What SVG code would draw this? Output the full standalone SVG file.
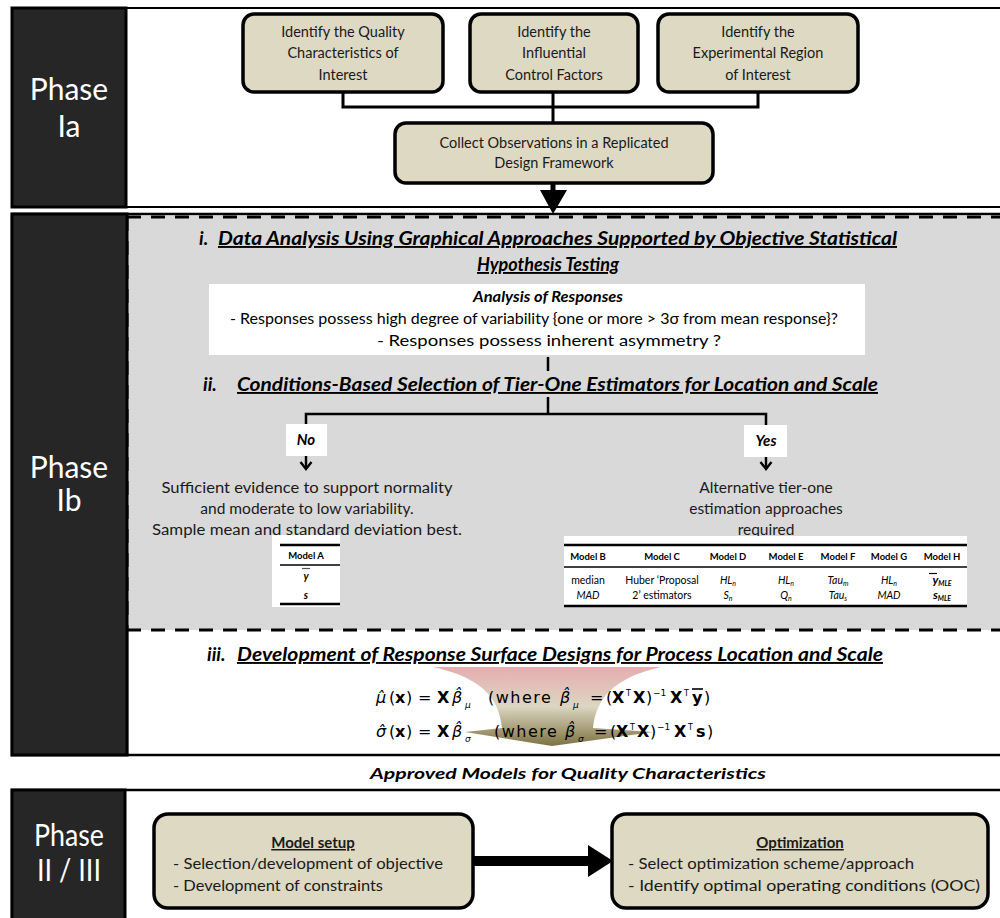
<svg xmlns="http://www.w3.org/2000/svg" width="1000" height="918" viewBox="0 0 1000 918">
<style>
.side{fill:#262626;stroke:#000;stroke-width:3}
.ptxt{font-family:Lato,"Liberation Sans",sans-serif;font-size:30px;fill:#fff;text-anchor:middle}
.box{fill:#DDD9C3;stroke:#000;stroke-width:3.5}
.bt{font-family:Lato,"Liberation Sans",sans-serif;font-size:14.5px;fill:#1a1a1a;text-anchor:middle}
.con{fill:none;stroke:#000;stroke-width:3}
.head{font-family:Lato,"Liberation Sans",sans-serif;font-size:19px;font-weight:bold;font-style:italic;fill:#000}
.ul{text-decoration:underline}
.at{font-family:Lato,"Liberation Sans",sans-serif;font-size:16px;fill:#000;text-anchor:middle}
.ab{font-family:Lato,"Liberation Sans",sans-serif;font-size:15px;font-weight:bold;font-style:italic;fill:#000;text-anchor:middle}
.lt{font-family:Lato,"Liberation Sans",sans-serif;font-size:15.5px;fill:#1a1a1a;text-anchor:middle}
.th{font-family:Lato,"Liberation Sans",sans-serif;font-size:9.5px;font-weight:bold;fill:#000;text-anchor:middle}
.td{font-family:Lato,"Liberation Sans",sans-serif;font-size:10.5px;fill:#000;text-anchor:middle}
.tdi{font-family:Lato,"Liberation Sans",sans-serif;font-size:10.5px;font-style:italic;fill:#000;text-anchor:middle}
.rule{stroke:#000;stroke-width:2.5}
.eq{font-family:"DejaVu Sans","Liberation Sans",sans-serif;font-size:16px;fill:#000}
.mt{font-family:Lato,"Liberation Sans",sans-serif;font-size:15px;fill:#1a1a1a}
.chev{fill:none;stroke:#000;stroke-width:2.4}
</style>
<defs>
<linearGradient id="fun" x1="0" y1="667" x2="0" y2="746" gradientUnits="userSpaceOnUse">
<stop offset="0" stop-color="#E6ADB1"/>
<stop offset="0.5" stop-color="#DCD6C2"/>
<stop offset="1" stop-color="#7D7242"/>
</linearGradient>
</defs>

<!-- Phase Ia frame -->
<g id="phase-ia">
<rect x="12" y="8" width="995" height="199" fill="#fff" stroke="#000" stroke-width="2"/>
<rect class="side" x="12" y="8" width="114" height="199"/>
<text class="ptxt" x="69" y="100">Phase</text>
<text class="ptxt" x="69" y="137">Ia</text>
</g>

<!-- Phase Ib frame -->
<g id="phase-ib">
<rect x="12" y="214" width="995" height="541" fill="#fff" stroke="#000" stroke-width="2.5"/>
<rect x="127" y="216" width="880" height="414" fill="#D9D9D9"/>
<path d="M127,217 H1000 M127,630 H1000 M127,217 V630" fill="none" stroke="#000" stroke-width="3" stroke-dasharray="14 10"/>
<line x1="127" y1="630" x2="127" y2="755" stroke="#000" stroke-width="2.5"/>
<rect class="side" x="12" y="214" width="115" height="541"/>
<text class="ptxt" x="69" y="478">Phase</text>
<text class="ptxt" x="69" y="511">Ib</text>
</g>

<!-- Phase II/III frame -->
<g id="phase-ii">
<rect x="12" y="790" width="995" height="140" fill="#fff" stroke="#000" stroke-width="2.5"/>
<rect class="side" x="12" y="790" width="113" height="140"/>
<text class="ptxt" x="69" y="846" textLength="70" lengthAdjust="spacingAndGlyphs">Phase</text>
<text class="ptxt" x="69" y="881" textLength="64" lengthAdjust="spacingAndGlyphs">II / III</text>
</g>

<!-- connectors -->
<g id="connectors">
<path class="con" d="M343,92 V107 H758 V92"/>
<path class="con" d="M553,92 V123"/>
<path d="M553,183 V192" stroke="#000" stroke-width="5"/>
<polygon points="540,190 567,190 553,214" fill="#000"/>
<path d="M548,357 V371 M548,397 V414" stroke="#000" stroke-width="2.5"/>
<path d="M306,426 V414 H766 V426" fill="none" stroke="#000" stroke-width="2.5"/>
<line x1="306" y1="456" x2="306" y2="468" stroke="#000" stroke-width="2.4"/>
<path class="chev" d="M300.5,462 L306,469 L311.5,462"/>
<line x1="766" y1="457" x2="766" y2="468" stroke="#000" stroke-width="2.4"/>
<path class="chev" d="M760.5,462 L766,469 L771.5,462"/>
<line x1="473" y1="861" x2="592" y2="861" stroke="#000" stroke-width="10"/>
<polygon points="588,845 613,861 588,877" fill="#000"/>
</g>

<!-- Phase Ia nodes -->
<g id="n-quality">
<rect class="box" x="243" y="14" width="200" height="78" rx="11"/>
<text class="bt" x="343" y="37">Identify the  Quality</text>
<text class="bt" x="343" y="58">Characteristics of</text>
<text class="bt" x="343" y="80">Interest</text>
</g>
<g id="n-factors">
<rect class="box" x="470" y="14" width="168" height="78" rx="11"/>
<text class="bt" x="554" y="37">Identify the</text>
<text class="bt" x="554" y="58">Influential</text>
<text class="bt" x="554" y="80">Control Factors</text>
</g>
<g id="n-region">
<rect class="box" x="658" y="14" width="200" height="78" rx="11"/>
<text class="bt" x="758" y="37">Identify the</text>
<text class="bt" x="758" y="58">Experimental Region</text>
<text class="bt" x="758" y="80">of Interest</text>
</g>
<g id="n-collect">
<rect class="box" x="395" y="123" width="318" height="60" rx="11"/>
<text class="bt" x="554" y="148">Collect Observations in a Replicated</text>
<text class="bt" x="554" y="168">Design Framework</text>
</g>

<!-- Section i -->
<g id="sec-i">
<text class="head" x="199" y="245">i.</text>
<text class="head ul" x="218" y="245" textLength="679" lengthAdjust="spacingAndGlyphs">Data Analysis Using Graphical Approaches Supported by Objective Statistical</text>
<text class="head ul" x="477" y="271" textLength="142" lengthAdjust="spacingAndGlyphs">Hypothesis Testing</text>
</g>
<g id="box-analysis">
<rect x="209" y="284" width="656" height="71" fill="#fff"/>
<text class="ab" x="548" y="302" textLength="150" lengthAdjust="spacingAndGlyphs">Analysis of Responses</text>
<text class="at" x="534" y="324" textLength="608" lengthAdjust="spacingAndGlyphs">-  Responses possess high degree of  variability {one or more &gt; 3σ from mean response}?</text>
<text class="at" x="549" y="346" textLength="344" lengthAdjust="spacingAndGlyphs">- Responses possess inherent asymmetry ?</text>
</g>

<!-- Section ii -->
<g id="sec-ii">
<text class="head" x="203" y="391">ii.</text>
<text class="head ul" x="237" y="391" textLength="641" lengthAdjust="spacingAndGlyphs">Conditions-Based Selection of Tier-One Estimators for Location and Scale</text>
</g>
<g id="label-no">
<rect x="286" y="424" width="41" height="32" fill="#fff"/>
<text class="ab" x="306" y="445">No</text>
</g>
<g id="label-yes">
<rect x="744" y="425" width="43" height="32" fill="#fff"/>
<text class="ab" x="766" y="446">Yes</text>
</g>
<g id="text-no">
<text class="lt" x="307" y="493" textLength="291" lengthAdjust="spacingAndGlyphs">Sufficient evidence to support normality</text>
<text class="lt" x="307" y="514">and moderate to low variability.</text>
<text class="lt" x="307" y="535" textLength="310" lengthAdjust="spacingAndGlyphs">Sample mean and standard deviation best.</text>
</g>
<g id="text-yes">
<text class="lt" x="766" y="493">Alternative tier-one</text>
<text class="lt" x="766" y="514">estimation approaches</text>
<text class="lt" x="766" y="535">required</text>
</g>
<g id="table-a">
<rect x="272" y="535" width="68" height="72" fill="#fff"/>
<line class="rule" x1="280" y1="545" x2="340" y2="545"/>
<line x1="280" y1="565" x2="340" y2="565" stroke="#000" stroke-width="1.5"/>
<line class="rule" x1="280" y1="604" x2="340" y2="604"/>
<text class="th" x="306" y="559">Model A</text>
<text class="td" x="306" y="580" font-weight="bold" font-style="italic" font-size="12">y</text>
<line x1="302" y1="568.5" x2="310" y2="568.5" stroke="#555" stroke-width="1.2"/>
<text class="td" x="306" y="599" font-weight="bold" font-style="italic" font-size="12">s</text>
</g>
<g id="table-b">
<rect x="564" y="536" width="403" height="71" fill="#fff"/>
<line class="rule" x1="564" y1="545" x2="967" y2="545"/>
<line x1="564" y1="567" x2="967" y2="567" stroke="#000" stroke-width="1.5"/>
<line class="rule" x1="564" y1="606" x2="967" y2="606"/>
<text class="th" x="588" y="560">Model B</text>
<text class="th" x="662" y="560">Model C</text>
<text class="th" x="728" y="560">Model D</text>
<text class="th" x="786" y="560">Model E</text>
<text class="th" x="838" y="560">Model F</text>
<text class="th" x="889" y="560">Model G</text>
<text class="th" x="942" y="560">Model H</text>
<text class="td" x="588" y="584">median</text>
<text class="tdi" x="588" y="599">MAD</text>
<text class="td" x="662" y="584">Huber ‘Proposal</text>
<text class="td" x="662" y="599">2’ estimators</text>
<text class="tdi" x="728" y="584">HL<tspan font-size="7" dy="2">n</tspan></text>
<text class="tdi" x="728" y="599">S<tspan font-size="7" dy="2">n</tspan></text>
<text class="tdi" x="786" y="584">HL<tspan font-size="7" dy="2">n</tspan></text>
<text class="tdi" x="786" y="599">Q<tspan font-size="7" dy="2">n</tspan></text>
<text class="tdi" x="838" y="584">Tau<tspan font-size="7" dy="2">m</tspan></text>
<text class="tdi" x="838" y="599">Tau<tspan font-size="7" dy="2">s</tspan></text>
<text class="tdi" x="889" y="584">HL<tspan font-size="7" dy="2">n</tspan></text>
<text class="tdi" x="889" y="599">MAD</text>
<text class="tdi" x="942" y="584" font-weight="bold"><tspan font-size="12">y</tspan><tspan font-size="7" dy="2">MLE</tspan></text>
<line x1="929" y1="573.5" x2="937" y2="573.5" stroke="#000" stroke-width="1.2"/>
<text class="tdi" x="942" y="599" font-weight="bold"><tspan font-size="12">s</tspan><tspan font-size="7" dy="2">MLE</tspan></text>
</g>

<!-- Section iii -->
<g id="sec-iii">
<text class="head" x="207" y="661">iii.</text>
<text class="head ul" x="237" y="661" textLength="646" lengthAdjust="spacingAndGlyphs">Development of Response Surface Designs for Process Location and Scale</text>
</g>
<g id="funnel">
<path d="M433,667 L661,667 C612,678 596,700 593,728 L653,732 L552,746 L465,732 L502,728 C499,700 484,678 433,667 Z" fill="url(#fun)"/>
</g>
<g id="equations">
<text class="eq"><tspan x="376" y="703" font-style="italic">μ̂</tspan><tspan x="389" y="703">(</tspan><tspan x="395" y="703" font-weight="bold">x</tspan><tspan x="406" y="703">)</tspan><tspan x="418" y="703">=</tspan><tspan x="437" y="703" font-weight="bold">X</tspan><tspan x="452" y="703" font-style="italic">β̂</tspan><tspan x="465" y="708" font-size="9" font-style="italic">μ</tspan><tspan x="488" y="703" letter-spacing="1.5">(where</tspan><tspan x="560" y="703" font-style="italic">β̂</tspan><tspan x="573" y="708" font-size="9" font-style="italic">μ</tspan><tspan x="590" y="703">=</tspan><tspan x="606" y="703">(</tspan><tspan x="612" y="703" font-weight="bold">X</tspan><tspan x="626" y="696" font-size="8">T</tspan><tspan x="633" y="703" font-weight="bold">X</tspan><tspan x="646" y="703">)</tspan><tspan x="653" y="696" font-size="9">−1</tspan><tspan x="670" y="703" font-weight="bold">X</tspan><tspan x="684" y="696" font-size="8">T</tspan><tspan x="692" y="703" font-weight="bold">y</tspan><tspan x="704" y="703">)</tspan></text>
<line x1="692" y1="689" x2="703" y2="689" stroke="#000" stroke-width="1.6"/>
<text class="eq"><tspan x="376" y="737" font-style="italic">σ̂</tspan><tspan x="389" y="737">(</tspan><tspan x="395" y="737" font-weight="bold">x</tspan><tspan x="406" y="737">)</tspan><tspan x="418" y="737">=</tspan><tspan x="437" y="737" font-weight="bold">X</tspan><tspan x="452" y="737" font-style="italic">β̂</tspan><tspan x="465" y="742" font-size="9" font-style="italic">σ</tspan><tspan x="494" y="737" letter-spacing="1.5">(where</tspan><tspan x="565" y="737" font-style="italic">β̂</tspan><tspan x="578" y="742" font-size="9" font-style="italic">σ</tspan><tspan x="594" y="737">=</tspan><tspan x="610" y="737">(</tspan><tspan x="616" y="737" font-weight="bold">X</tspan><tspan x="630" y="730" font-size="8">T</tspan><tspan x="637" y="737" font-weight="bold">X</tspan><tspan x="650" y="737">)</tspan><tspan x="657" y="730" font-size="9">−1</tspan><tspan x="674" y="737" font-weight="bold">X</tspan><tspan x="688" y="730" font-size="8">T</tspan><tspan x="696" y="737" font-weight="bold">s</tspan><tspan x="707" y="737">)</tspan></text>
</g>

<g id="approved">
<text class="ab" x="568" y="779" font-size="16" textLength="396" lengthAdjust="spacingAndGlyphs">Approved Models for Quality Characteristics</text>
</g>

<!-- Phase II/III nodes -->
<g id="n-model-setup">
<rect class="box" x="154" y="814" width="319" height="94" rx="14"/>
<text class="mt" x="313" y="848" text-anchor="middle" font-weight="bold" text-decoration="underline">Model setup</text>
<text class="mt" x="173" y="869" textLength="270" lengthAdjust="spacingAndGlyphs">- Selection/development of objective</text>
<text class="mt" x="173" y="891" textLength="210" lengthAdjust="spacingAndGlyphs">- Development of constraints</text>
</g>
<g id="n-optimization">
<rect class="box" x="612" y="814" width="376" height="94" rx="14"/>
<text class="mt" x="800" y="848" text-anchor="middle" font-weight="bold" text-decoration="underline">Optimization</text>
<text class="mt" x="628" y="869" textLength="286" lengthAdjust="spacingAndGlyphs">- Select optimization  scheme/approach</text>
<text class="mt" x="628" y="891" textLength="352" lengthAdjust="spacingAndGlyphs">- Identify optimal  operating conditions (OOC)</text>
</g>
</svg>
